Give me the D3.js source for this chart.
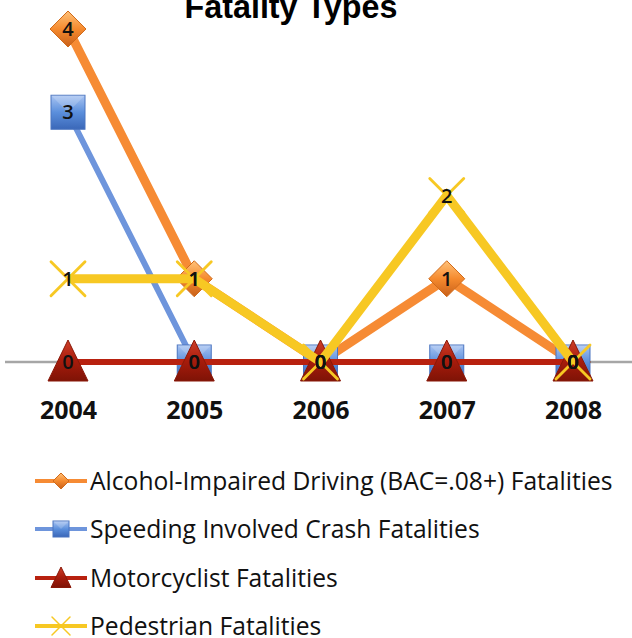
<!DOCTYPE html>
<html><head><meta charset="utf-8">
<script src="https://cdn.jsdelivr.net/npm/d3@7/dist/d3.min.js"></script>
<style>html,body{margin:0;padding:0;background:#fff;}svg{display:block;}</style>
</head><body>
<svg id="c" width="632" height="638"></svg>
<script>
const years = ["2004","2005","2006","2007","2008"];
const seriesNames = ["Alcohol-Impaired Driving (BAC=.08+) Fatalities","Speeding Involved Crash Fatalities","Motorcyclist Fatalities","Pedestrian Fatalities"];
const alcohol = [4,1,0,1,0];
const speeding = [3,0,0,0,0];
const motorcyclist = [0,0,0,0,0];
const pedestrian = [1,1,0,2,0];
const yTicks = [0,1,2,3,4];

const svg = d3.select("#c");
const x = d3.scalePoint().domain(years).range([68,573]);
const y = d3.scaleLinear().domain([0,4]).range([362,29]);

const defs = svg.append("defs");
function grad(id, c1, c2, c3){
  const g = defs.append("linearGradient").attr("id",id).attr("x1","0").attr("y1","0").attr("x2","0").attr("y2","1");
  g.append("stop").attr("offset","0").attr("stop-color",c1);
  g.append("stop").attr("offset","0.5").attr("stop-color",c2);
  g.append("stop").attr("offset","1").attr("stop-color",c3);
}
grad("gO","#ffc27a","#f58a2e","#c8601a");
grad("gB","#a9c4f2","#5b8fdc","#3a67b8");
grad("gR","#d0402a","#a81c0c","#7e1306");

const series = [
  {name:seriesNames[0], vals:alcohol, color:"#f68b34", w:9, marker:"diamond", fill:"url(#gO)"},
  {name:seriesNames[1], vals:speeding, color:"#6e95dc", w:6, marker:"square", fill:"url(#gB)"},
  {name:seriesNames[2], vals:motorcyclist, color:"#b8210f", w:6, marker:"triangle", fill:"url(#gR)"},
  {name:seriesNames[3], vals:pedestrian, color:"#f7c823", w:9, marker:"x", fill:"#f7c823"}
];

// title
const title = svg.append("text").attr("x",291).attr("y",18).attr("text-anchor","middle")
  .attr("font-family","Liberation Sans, Arial, sans-serif").attr("font-weight","bold").attr("font-size",30)
  .attr("fill","#000").text("Fatality Types");
const tw = title.node().getComputedTextLength();
title.attr("font-size", 30*213/tw);

// axis
const xAxis = d3.axisBottom(x).tickSize(0).tickPadding(0);
const ax = svg.append("g").attr("transform","translate(0,"+y(0)+")").call(xAxis);
ax.select(".domain").remove();
ax.append("line").attr("x1",5).attr("x2",632).attr("y1",0).attr("y2",0).attr("stroke","#a6a6a6").attr("stroke-width",2.5);
ax.selectAll(".tick text").attr("y",57).attr("dy",0).attr("font-family","Open Sans, sans-serif")
  .attr("font-weight","bold").attr("font-size",25).attr("fill","#111");

function drawMarker(g, type, fill, color, size){
  if(type==="diamond"){
    const s=size;
    g.append("path").attr("d",`M0,${-s}L${s},0L0,${s}L${-s},0Z`).attr("fill",fill).attr("stroke","#d06a1a").attr("stroke-width",1);
  } else if(type==="square"){
    const s=size;
    g.append("rect").attr("x",-s).attr("y",-s).attr("width",2*s).attr("height",2*s).attr("fill",fill).attr("stroke","#4a74c0").attr("stroke-width",1);
    g.append("path").attr("d",`M${-s},${-s}L0,0L${s},${-s}Z`).attr("fill","#ffffff").attr("opacity",0.18);
  } else if(type==="triangle"){
    const s=size;
    g.append("path").attr("d",`M0,${-s*1.1}L${s*1.0},${s*0.95}L${-s*1.0},${s*0.95}Z`).attr("fill",fill).attr("stroke","#8a1808").attr("stroke-width",1);
  } else if(type==="x"){
    const s=size;
    g.append("path").attr("d",`M${-s},${-s}L${s},${s}M${s},${-s}L${-s},${s}`).attr("stroke",color).attr("stroke-width",Math.max(1.5,size/6)).attr("stroke-linecap","round");
  }
}

const line = d3.line().x((d,i)=>x(years[i])).y(d=>y(d));
const plot = svg.append("g");
const sizes = {diamond:18, square:17, triangle:20, x:17};
series.forEach(s=>{
  const g = plot.append("g");
  g.append("path").attr("d",line(s.vals)).attr("fill","none").attr("stroke",s.color).attr("stroke-width",s.w).attr("stroke-linejoin","miter");
  s.vals.forEach((v,i)=>{
    const m = g.append("g").attr("transform",`translate(${x(years[i])},${y(v)})`);
    drawMarker(m, s.marker, s.fill, s.color, sizes[s.marker]);
  });
});
// data labels
series.forEach(s=>{
  svg.append("g").selectAll("text").data(s.vals).join("text")
    .attr("x",(d,i)=>x(years[i])).attr("y",d=>y(d)).attr("dy","0.36em")
    .attr("text-anchor","middle").attr("font-family","Open Sans, sans-serif")
    .attr("font-weight","600").attr("font-size",20).attr("fill","#111").text(d=>d);
});

// legend
const leg = svg.append("g");
const rowY = [481,529,578,626];
const lsizes = {diamond:8, square:8, triangle:10, x:9};
let texts=[];
series.forEach((s,i)=>{
  const g = leg.append("g").attr("transform",`translate(0,${rowY[i]})`);
  g.append("line").attr("x1",35).attr("x2",87).attr("y1",0).attr("y2",0).attr("stroke",s.color).attr("stroke-width",4);
  const m = g.append("g").attr("transform","translate(61,0)");
  drawMarker(m, s.marker, s.fill, s.color, lsizes[s.marker]);
  texts.push(g.append("text").attr("x",90).attr("y",0).attr("dy","0.35em").attr("font-family","Open Sans, sans-serif")
    .attr("font-size",20).attr("fill","#111").text(s.name));
});
const lw = texts[0].node().getComputedTextLength();
texts.forEach(t=>t.attr("font-size",20*523/lw));
</script>
</body></html>
